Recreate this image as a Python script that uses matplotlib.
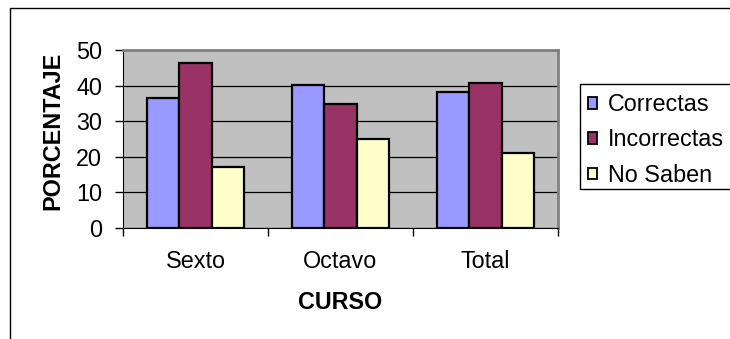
import matplotlib.pyplot as plt
import numpy as np
from matplotlib.lines import Line2D
from matplotlib.patches import Rectangle

cursos = ["Sexto", "Octavo", "Total"]
series = ["Correctas", "Incorrectas", "No Saben"]
correctas = [36.6, 40.1, 38.2]
incorrectas = [46.3, 34.8, 40.8]
no_saben = [17.1, 25.1, 21.0]
colores = ["#9999FF", "#993366", "#FFFFCC"]

plt.rcParams["font.family"] = ["Liberation Sans", "DejaVu Sans"]
fs = 16.8

W, H = 730, 339
fig = plt.figure(figsize=(W / 100, H / 100), dpi=100)
fig.patch.set_facecolor("white")

# area de trazado en pixeles (izq, der, arriba, abajo)
x0, x1, y0, y1 = 123, 558, 50, 228
ax = fig.add_axes([x0 / W, 1 - y1 / H, (x1 - x0) / W, (y1 - y0) / H])
ax.set_facecolor("#C0C0C0")

x = np.arange(len(cursos))
ancho = 1 / 4.5
for i, (vals, nombre) in enumerate(zip([correctas, incorrectas, no_saben], series)):
    ax.bar(x + (i - 1) * ancho, vals, ancho, color=colores[i],
           edgecolor="black", linewidth=1.6, label=nombre, zorder=3)

ax.set_xlim(-0.5, len(cursos) - 0.5)
ax.set_ylim(0, 50)
ax.set_yticks(range(0, 51, 10))
ax.yaxis.grid(True, color="black", linewidth=0.9, zorder=1)
ax.set_axisbelow(True)

ax.set_xticks(x)
ax.set_xticklabels(cursos)
ax.set_xticks(np.arange(-0.5, len(cursos), 1), minor=True)
ax.tick_params(axis="x", which="major", length=0, pad=16, labelsize=fs)
ax.tick_params(axis="x", which="minor", length=6, width=1, direction="out")
ax.tick_params(axis="y", length=6, width=1, direction="out", pad=9, labelsize=fs)

for lado in ["top", "right"]:
    ax.spines[lado].set_color("#808080")
    ax.spines[lado].set_linewidth(2)
ax.spines["left"].set_color("black")
ax.spines["bottom"].set_color("black")

fig.text(52.5 / W, 1 - 130.5 / H, "PORCENTAJE", rotation=90, ha="center",
         va="center", fontsize=fs, fontweight="bold")
fig.text(340 / W, 1 - 302.5 / H, "CURSO", ha="center", va="center",
         fontsize=fs, fontweight="bold")

# marco exterior del grafico
fig.add_artist(Line2D([9.5 / W, 9.5 / W, 1.0], [0, 1 - 7.5 / H, 1 - 7.5 / H],
                      transform=fig.transFigure, color="black", linewidth=1))

# leyenda con su recuadro
fig.add_artist(Rectangle((580 / W, 1 - 189 / H), 200 / W, 105 / H,
                         transform=fig.transFigure, facecolor="white",
                         edgecolor="black", linewidth=1, clip_on=True))
handles = [Rectangle((0, 0), 1, 1, facecolor=c, edgecolor="black", linewidth=1.3)
           for c in colores]
fig.legend(handles, series, loc="upper left",
           bbox_to_anchor=(588 / W, 1 - 93 / H), frameon=False,
           fontsize=fs, handlelength=0.4, handleheight=0.4,
           handletextpad=0.45, labelspacing=0.53, borderpad=0.0,
           borderaxespad=0)

fig.savefig("out.png", dpi=100)
